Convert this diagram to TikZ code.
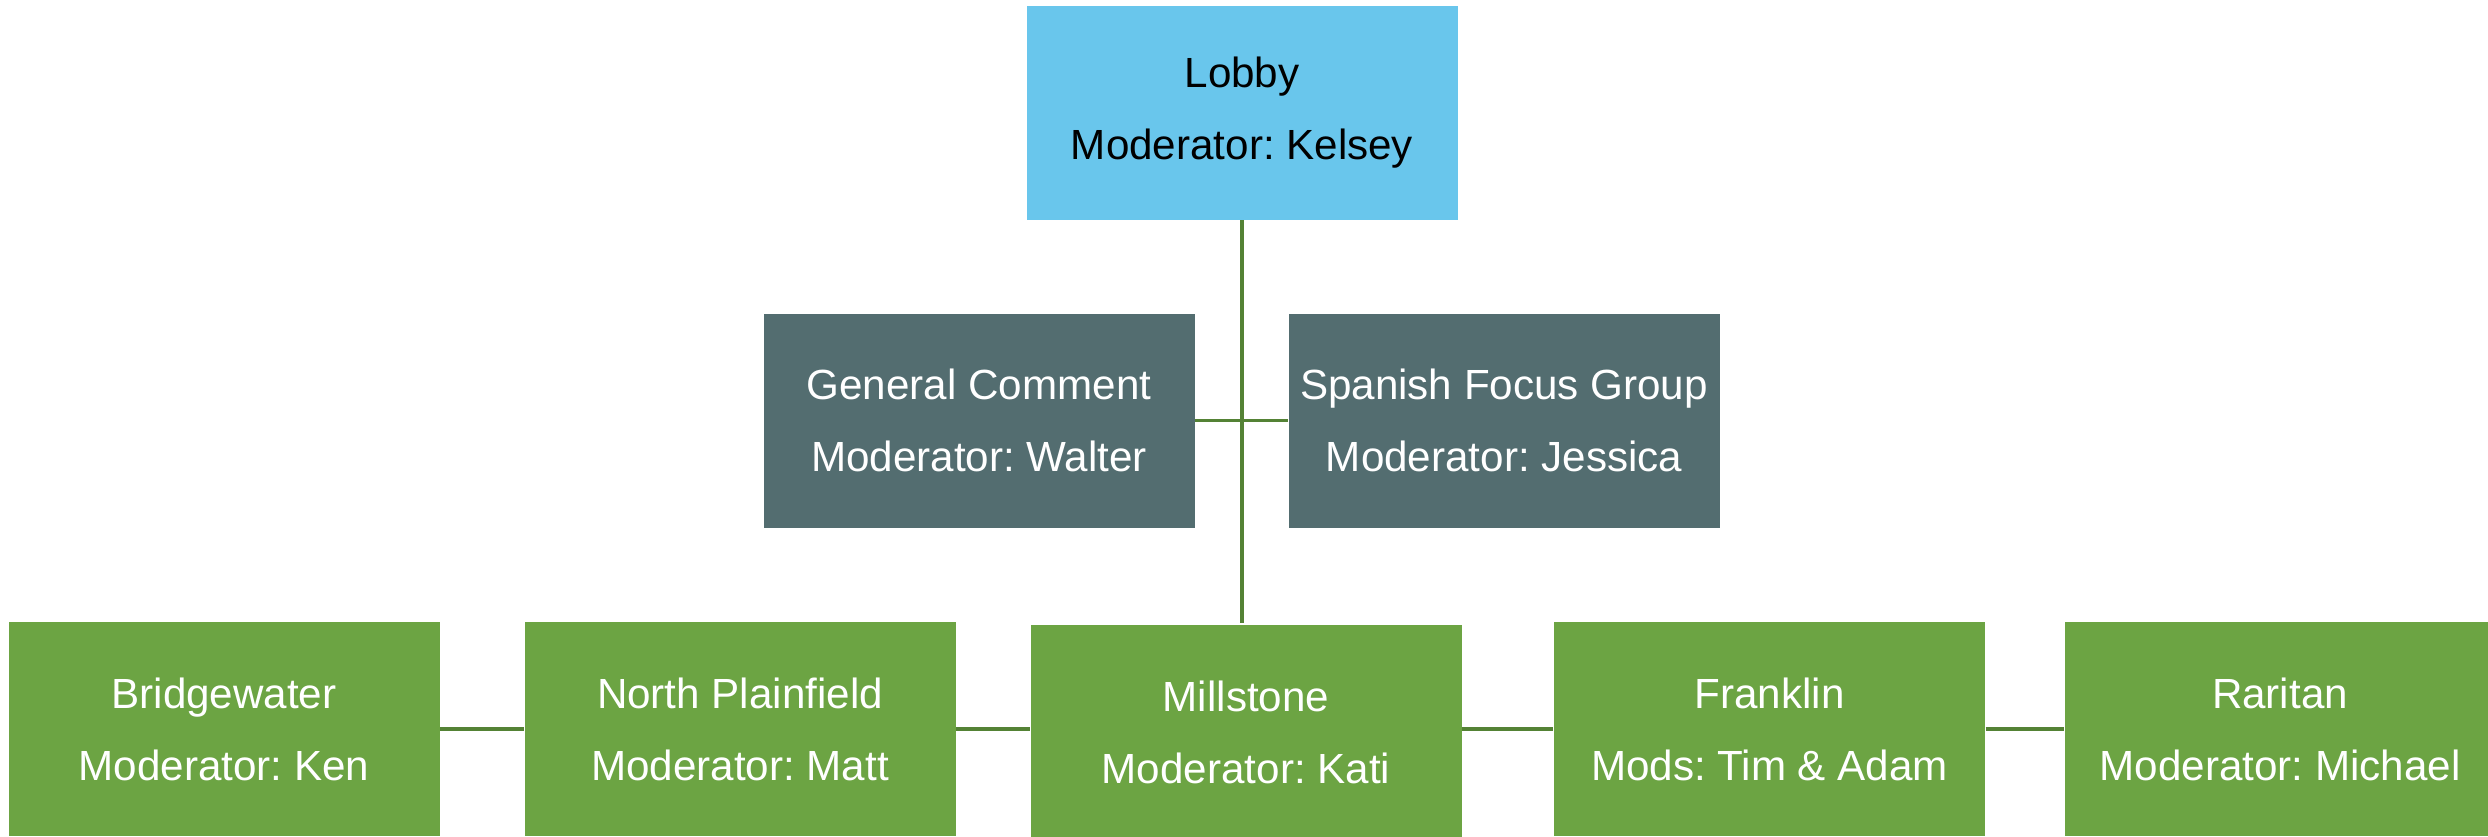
\documentclass[tikz,border=0pt]{standalone}
\usepackage{fontspec}
\setmainfont{Liberation Sans}
\usetikzlibrary{positioning}
\definecolor{lobbyblue}{HTML}{69C6EC}
\definecolor{roomgray}{HTML}{536D70}
\definecolor{towngreen}{HTML}{6CA443}
\definecolor{linkgreen}{HTML}{548235}
\frenchspacing

\begin{document}
\begin{tikzpicture}[font=\fontsize{12}{20.5}\selectfont,
  box/.style={rectangle,minimum width=4.31cm,minimum height=2.14cm,align=center,inner sep=0pt},
  lobby/.style={box,fill=lobbyblue,text=black},
  room/.style={box,fill=roomgray,text=white},
  town/.style={box,fill=towngreen,text=white},
  link/.style={draw=linkgreen,line width=0.9pt}]
\clip (0,0) rectangle (24.88,-8.36);
\node[lobby] (L) at (12.42,-1.125) {Lobby\\ Moderator: Kelsey};
\node[room] (G) at (9.79,-4.205) {General Comment\\ Moderator: Walter};
\node[room] (S) at (15.04,-4.205) {Spanish Focus Group\\ Moderator: Jessica};
\node[town] (B) at (2.24,-7.29) {Bridgewater\\ Moderator: Ken};
\node[town] (N) at (7.40,-7.29) {North Plainfield\\ Moderator: Matt};
\node[town] (M) at (12.46,-7.32) {Millstone\\ Moderator: Kati};
\node[town] (F) at (17.695,-7.29) {Franklin\\ Mods: Tim \& Adam};
\node[town] (R) at (22.80,-7.29) {Raritan\\ Moderator: Michael};
\draw[link] (L.south) -- ++(0,-4.03);
\draw[link] (G) -- (S);
\draw[link] (B) -- (N);
\draw[link] (N) -- (N -| M.west);
\draw[link] (M.east |- F) -- (F);
\draw[link] (F) -- (R);
\end{tikzpicture}
\end{document}
